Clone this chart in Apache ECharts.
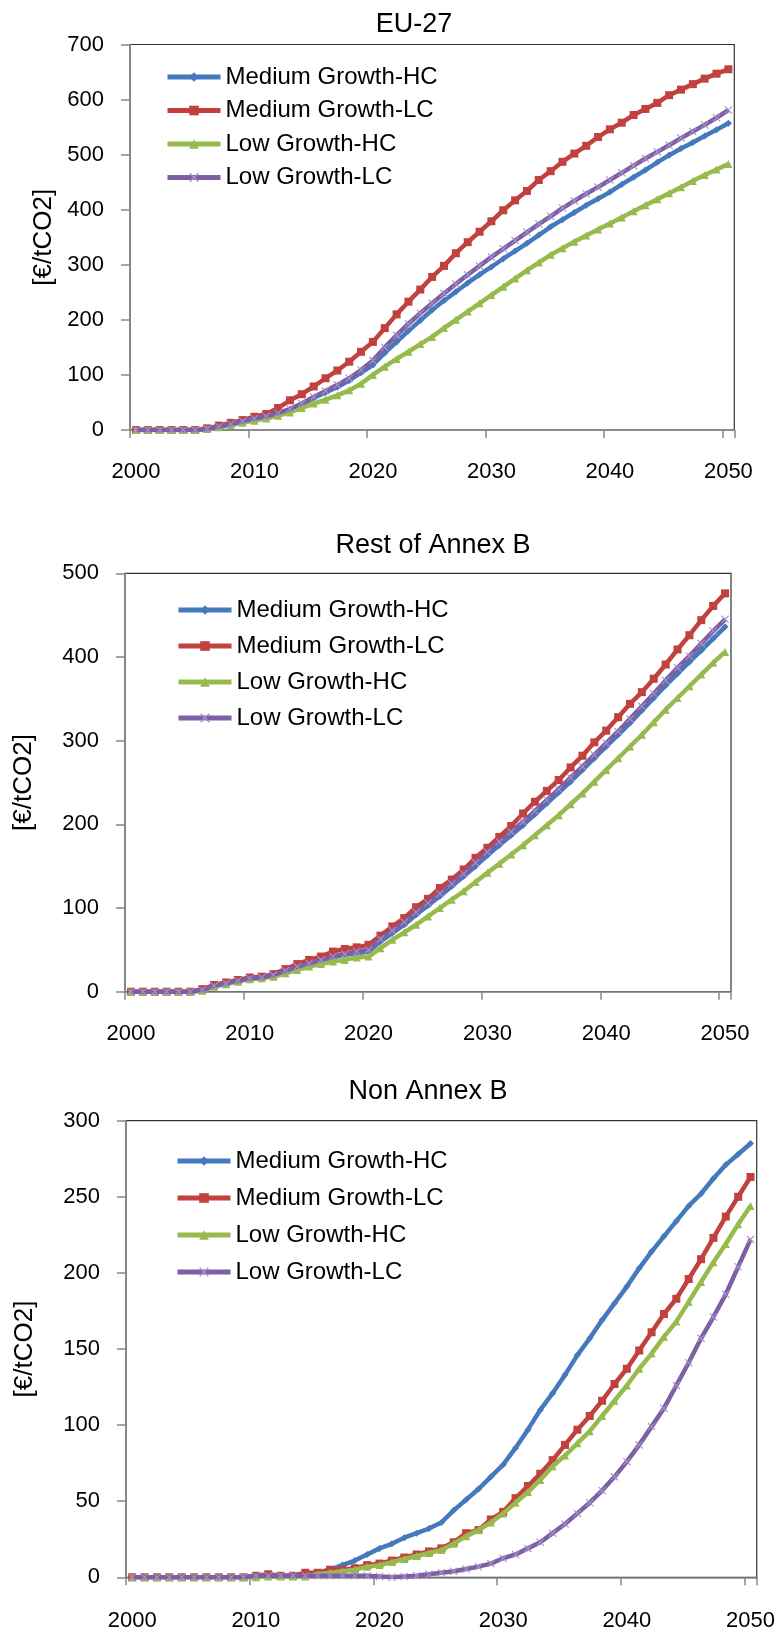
<!DOCTYPE html>
<html>
<head>
<meta charset="utf-8">
<script src="https://cdn.jsdelivr.net/npm/echarts@6/dist/echarts.min.js"></script>
<style>
html,body{margin:0;padding:0;background:#fff;}
#c{width:782px;height:1634px;}
</style>
</head>
<body>
<div id="c"></div>
<script>
// ---- categories (years) ----
const years = ['2000','2001','2002','2003','2004','2005','2006','2007','2008','2009',
  '2010','2011','2012','2013','2014','2015','2016','2017','2018','2019',
  '2020','2021','2022','2023','2024','2025','2026','2027','2028','2029',
  '2030','2031','2032','2033','2034','2035','2036','2037','2038','2039',
  '2040','2041','2042','2043','2044','2045','2046','2047','2048','2049','2050'];

const seriesNames = ['Medium Growth-HC','Medium Growth-LC','Low Growth-HC','Low Growth-LC'];
const panelTitles = ['EU-27','Rest of Annex B','Non Annex B'];
const yAxisTitle = '[€/tCO2]';

// ---- EU-27 ----
const eu_mgHC = [0,0,0,0,0,0,2,6,11,16, 20,24,30,37,46,58,68,78,90,104,
  118,140,160,180,199,218,235,251,267,282, 296,311,325,339,354,369,382,395,408,420,
  432,446,459,472,486,499,511,522,534,545,557];
const eu_mgLC = [0,0,0,0,0,0,3,8,13,18, 24,29,40,54,65,79,94,108,124,142,
  160,185,210,233,255,278,298,321,341,360, 379,399,417,434,454,470,487,502,516,532,
  546,558,572,583,594,608,618,628,638,647,655];
const eu_lgHC = [0,0,0,0,0,0,2,5,9,13, 17,21,26,32,40,48,55,63,72,84,
  100,115,129,142,156,169,185,200,215,230, 245,260,275,290,304,318,330,342,353,364,
  375,386,397,408,419,430,441,452,463,473,483];
const eu_lgLC = [0,0,0,0,0,0,2,6,11,16, 21,25,31,38,48,60,71,82,94,109,
  126,150,172,193,212,230,248,265,282,298, 314,329,344,359,374,388,403,416,429,441,
  454,467,480,493,505,517,530,542,554,567,581];

// ---- Rest of Annex B ----
const rab_mgHC = [0,0,0,0,0,0,2,7,10,13, 16,17,19,24,29,33,37,41,44,46,
  48,60,70,80,92,103,114,126,138,150, 163,175,187,199,212,225,238,251,265,279,
  293,307,321,336,351,366,380,394,408,422,436];
const rab_mgLC = [0,0,0,0,0,0,3,8,11,14, 17,18,21,27,33,38,42,48,51,53,
  56,67,78,88,101,111,124,134,146,160, 172,185,198,213,227,240,253,268,282,298,
  312,328,344,358,374,391,409,426,444,461,476];
const rab_lgHC = [0,0,0,0,0,0,1,6,9,12, 15,16,18,22,26,30,33,36,38,41,
  42,52,62,71,80,90,100,110,120,131, 142,153,164,175,187,199,211,224,237,251,
  265,279,293,307,322,337,351,365,379,393,406];
const rab_lgLC = [0,0,0,0,0,0,2,7,10,13, 16,17,20,25,30,34,38,42,45,48,
  50,63,73,83,95,106,117,129,141,154, 167,179,191,203,216,229,242,256,269,283,
  297,311,326,341,356,372,387,401,416,431,445];

// ---- Non Annex B ----
const nab_mgHC = [0,0,0,0,0,0,0,0,0,0, 0.5,0.5,0.5,1,1.5,3,5,8,11,15,
  19,22,26,29,32,36,44,51,58,66, 74,85,97,110,121,133,146,157,169,180,
  191,203,214,224,234,244,252,262,271,278,285];
const nab_mgLC = [0,0,0,0,0,0,0,0,0,0, 1,2,1,1,3,3,5,5,6,8,
  9,11,13,15,17,19,23,29,31,38, 43,52,60,68,77,87,97,106,116,127,
  137,149,161,173,183,196,209,223,237,250,263];
const nab_lgHC = [0,0,0,0,0,0,0,0,0,0, 0,0.5,0.5,0.5,0.5,2,3,4,5,7,
  8,10,12,14,16,18,22,27,31,36, 42,49,56,64,73,80,88,96,106,116,
  126,137,147,158,168,181,194,207,219,232,244];
const nab_lgLC = [0,0,0,0,0,0,0,0,0,0, 1,1,1,1,1,1,1,1,1,1,
  0.5,0,0.5,1,2,3,4,5.5,7,9, 12.5,15,19,23,29,35,42,49,57,66,
  76,87,99,111,126,141,157,171,186,204,222];

const yMax = [700, 500, 300];
const yStep = [100, 100, 50];

// ---- styling ----
const FONT = "'Liberation Sans', Arial, sans-serif";
const colors = ['#4579BE', '#C0413D', '#97BA4C', '#7D5FA4'];
const markerColors = ['#4579BE', '#C0413D', '#97BA4C', '#A491CC'];
const xPath = 'path://M1,0L5,4L9,0L10,1L6,5L10,9L9,10L5,6L1,10L0,9L4,5L0,1Z';
const symbols = ['diamond', 'rect', 'triangle', xPath];
const symbolSizes = [7, 8, 8, 8];

const grids = [
  {left:130, top:44.5, width:604.3, height:385.5},
  {left:125, top:573.3, width:606, height:418.4},
  {left:126, top:1120.7, width:630.7, height:456.6}
];
const titlePos = [[409, 6], [428, 527], [423, 1073]];
const legendTop = [60, 593, 1144];
const legendLeft = [160, 171, 170];
const legendGap = [9.5, 12, 13];
const nameGap = [73, 88, 88];
const xLabelMargin = [31, 31, 33];

const panels = [
  [eu_mgHC, eu_mgLC, eu_lgHC, eu_lgLC],
  [rab_mgHC, rab_mgLC, rab_lgHC, rab_lgLC],
  [nab_mgHC, nab_mgLC, nab_lgHC, nab_lgLC]
];

const option = {
  animation: false,
  backgroundColor: '#fff',
  textStyle: {fontFamily: FONT},
  title: panelTitles.map((t, i) => ({
    text: t, left: titlePos[i][0], top: titlePos[i][1], textAlign: 'center',
    textStyle: {fontFamily: FONT, fontSize: 27, fontWeight: 'normal', color: '#000'}
  })),
  legend: panels.map((p, i) => ({
    orient: 'vertical', left: legendLeft[i], top: legendTop[i],
    itemWidth: 53, itemHeight: 12, itemGap: legendGap[i],
    data: seriesNames,
    selectedMode: false,
    lineStyle: {width: 5},
    textStyle: {fontFamily: FONT, fontSize: 24, lineHeight: 24, color: '#000', padding: [0,0,0,0]}
  })),
  grid: grids.map(g => Object.assign({show: true, borderColor: '#333', borderWidth: 1.2, backgroundColor: 'transparent'}, g)),
  xAxis: grids.map((g, i) => ({
    type: 'category', gridIndex: i, data: years, boundaryGap: true,
    axisLine: {lineStyle: {color: '#888', width: 1.5}},
    axisTick: {show: true, interval: 9, length: 8, lineStyle: {color: '#888', width: 1.5}},
    axisLabel: {interval: 9, margin: xLabelMargin[i], fontFamily: FONT, fontSize: 22, color: '#000'},
    splitLine: {show: false}
  })),
  yAxis: grids.map((g, i) => ({
    type: 'value', gridIndex: i, min: 0, max: yMax[i], interval: yStep[i],
    name: yAxisTitle, nameLocation: 'middle', nameGap: nameGap[i], nameRotate: 90,
    nameTextStyle: {fontFamily: FONT, fontSize: 26, color: '#000'},
    axisLine: {show: true, lineStyle: {color: '#888', width: 1.5}},
    axisTick: {show: true, length: 9, lineStyle: {color: '#888', width: 1.5}},
    axisLabel: {margin: 26, fontFamily: FONT, fontSize: 22, color: '#000'},
    splitLine: {show: false}
  })),
  series: []
};

panels.forEach((p, gi) => {
  p.forEach((arr, si) => {
    option.series.push({
      type: 'line', name: seriesNames[si], xAxisIndex: gi, yAxisIndex: gi,
      data: arr, symbol: symbols[si], symbolSize: symbolSizes[si],
      showSymbol: true, showAllSymbol: true,
      lineStyle: {color: colors[si], width: 4.5},
      itemStyle: {color: markerColors[si], borderWidth: 0},
      emphasis: {disabled: true},
      z: 2 + si
    });
  });
});

const chart = echarts.init(document.getElementById('c'), null, {renderer: 'canvas'});
chart.setOption(option);
</script>
</body>
</html>
